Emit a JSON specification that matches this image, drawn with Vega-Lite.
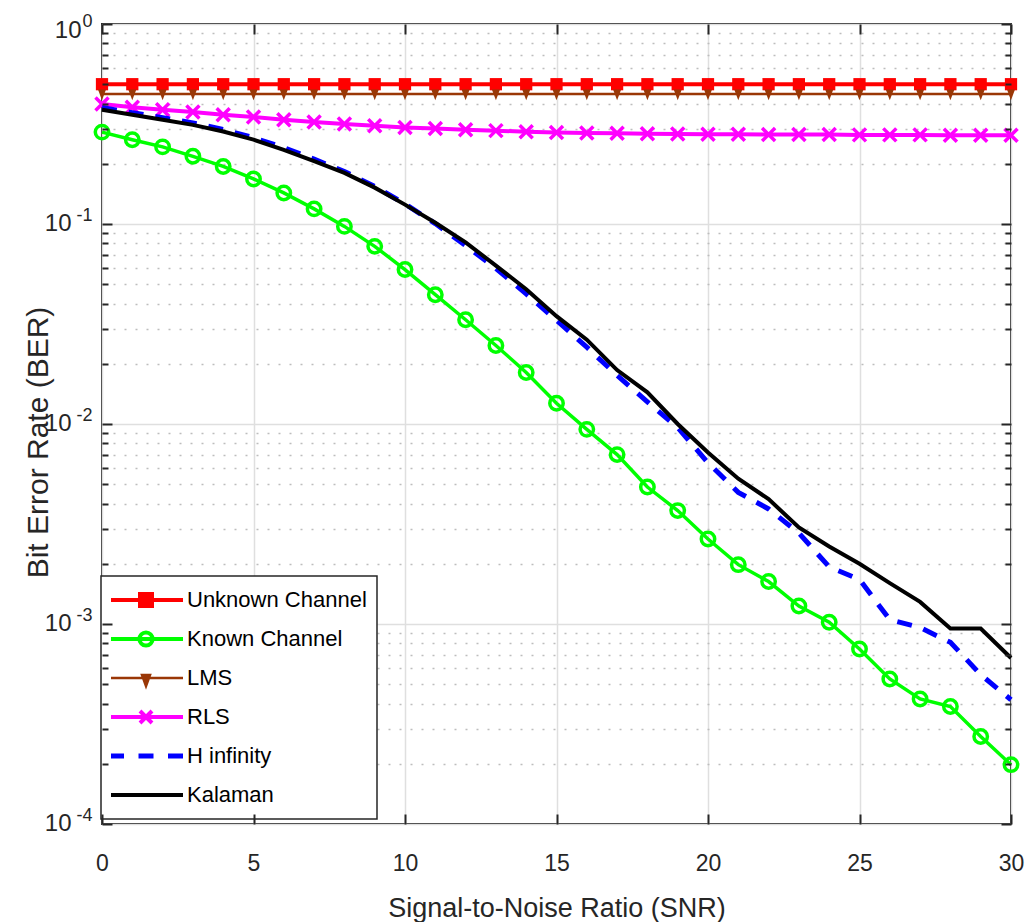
{
  "$schema": "https://vega.github.io/schema/vega-lite/v6.json",
  "width": 909,
  "height": 800,
  "autosize": {"type": "none"},
  "padding": {"left": 102, "top": 24, "right": 17, "bottom": 98},
  "background": "#ffffff",
  "datasets": {
    "ber": [
      {"snr":0,"ber":0.5,"series":"Unknown Channel"},{"snr":1,"ber":0.5,"series":"Unknown Channel"},{"snr":2,"ber":0.5,"series":"Unknown Channel"},{"snr":3,"ber":0.5,"series":"Unknown Channel"},{"snr":4,"ber":0.5,"series":"Unknown Channel"},{"snr":5,"ber":0.5,"series":"Unknown Channel"},{"snr":6,"ber":0.5,"series":"Unknown Channel"},{"snr":7,"ber":0.5,"series":"Unknown Channel"},{"snr":8,"ber":0.5,"series":"Unknown Channel"},{"snr":9,"ber":0.5,"series":"Unknown Channel"},{"snr":10,"ber":0.5,"series":"Unknown Channel"},{"snr":11,"ber":0.5,"series":"Unknown Channel"},{"snr":12,"ber":0.5,"series":"Unknown Channel"},{"snr":13,"ber":0.5,"series":"Unknown Channel"},{"snr":14,"ber":0.5,"series":"Unknown Channel"},{"snr":15,"ber":0.5,"series":"Unknown Channel"},{"snr":16,"ber":0.5,"series":"Unknown Channel"},{"snr":17,"ber":0.5,"series":"Unknown Channel"},{"snr":18,"ber":0.5,"series":"Unknown Channel"},{"snr":19,"ber":0.5,"series":"Unknown Channel"},{"snr":20,"ber":0.5,"series":"Unknown Channel"},{"snr":21,"ber":0.5,"series":"Unknown Channel"},{"snr":22,"ber":0.5,"series":"Unknown Channel"},{"snr":23,"ber":0.5,"series":"Unknown Channel"},{"snr":24,"ber":0.5,"series":"Unknown Channel"},{"snr":25,"ber":0.5,"series":"Unknown Channel"},{"snr":26,"ber":0.5,"series":"Unknown Channel"},{"snr":27,"ber":0.5,"series":"Unknown Channel"},{"snr":28,"ber":0.5,"series":"Unknown Channel"},{"snr":29,"ber":0.5,"series":"Unknown Channel"},{"snr":30,"ber":0.5,"series":"Unknown Channel"},
      {"snr":0,"ber":0.288,"series":"Known Channel"},{"snr":1,"ber":0.264,"series":"Known Channel"},{"snr":2,"ber":0.243,"series":"Known Channel"},{"snr":3,"ber":0.218,"series":"Known Channel"},{"snr":4,"ber":0.194,"series":"Known Channel"},{"snr":5,"ber":0.168,"series":"Known Channel"},{"snr":6,"ber":0.143,"series":"Known Channel"},{"snr":7,"ber":0.119,"series":"Known Channel"},{"snr":8,"ber":0.0973,"series":"Known Channel"},{"snr":9,"ber":0.0773,"series":"Known Channel"},{"snr":10,"ber":0.0592,"series":"Known Channel"},{"snr":11,"ber":0.0443,"series":"Known Channel"},{"snr":12,"ber":0.0332,"series":"Known Channel"},{"snr":13,"ber":0.0247,"series":"Known Channel"},{"snr":14,"ber":0.0181,"series":"Known Channel"},{"snr":15,"ber":0.0127,"series":"Known Channel"},{"snr":16,"ber":0.0094,"series":"Known Channel"},{"snr":17,"ber":0.00703,"series":"Known Channel"},{"snr":18,"ber":0.00484,"series":"Known Channel"},{"snr":19,"ber":0.00369,"series":"Known Channel"},{"snr":20,"ber":0.00266,"series":"Known Channel"},{"snr":21,"ber":0.00198,"series":"Known Channel"},{"snr":22,"ber":0.00163,"series":"Known Channel"},{"snr":23,"ber":0.00123,"series":"Known Channel"},{"snr":24,"ber":0.00102,"series":"Known Channel"},{"snr":25,"ber":0.00075,"series":"Known Channel"},{"snr":26,"ber":0.000531,"series":"Known Channel"},{"snr":27,"ber":0.000422,"series":"Known Channel"},{"snr":28,"ber":0.000387,"series":"Known Channel"},{"snr":29,"ber":0.000274,"series":"Known Channel"},{"snr":30,"ber":0.000198,"series":"Known Channel"},
      {"snr":0,"ber":0.447,"series":"LMS"},{"snr":1,"ber":0.447,"series":"LMS"},{"snr":2,"ber":0.447,"series":"LMS"},{"snr":3,"ber":0.447,"series":"LMS"},{"snr":4,"ber":0.447,"series":"LMS"},{"snr":5,"ber":0.447,"series":"LMS"},{"snr":6,"ber":0.447,"series":"LMS"},{"snr":7,"ber":0.447,"series":"LMS"},{"snr":8,"ber":0.447,"series":"LMS"},{"snr":9,"ber":0.447,"series":"LMS"},{"snr":10,"ber":0.447,"series":"LMS"},{"snr":11,"ber":0.447,"series":"LMS"},{"snr":12,"ber":0.447,"series":"LMS"},{"snr":13,"ber":0.447,"series":"LMS"},{"snr":14,"ber":0.447,"series":"LMS"},{"snr":15,"ber":0.447,"series":"LMS"},{"snr":16,"ber":0.447,"series":"LMS"},{"snr":17,"ber":0.447,"series":"LMS"},{"snr":18,"ber":0.447,"series":"LMS"},{"snr":19,"ber":0.447,"series":"LMS"},{"snr":20,"ber":0.447,"series":"LMS"},{"snr":21,"ber":0.447,"series":"LMS"},{"snr":22,"ber":0.447,"series":"LMS"},{"snr":23,"ber":0.447,"series":"LMS"},{"snr":24,"ber":0.447,"series":"LMS"},{"snr":25,"ber":0.447,"series":"LMS"},{"snr":26,"ber":0.447,"series":"LMS"},{"snr":27,"ber":0.447,"series":"LMS"},{"snr":28,"ber":0.447,"series":"LMS"},{"snr":29,"ber":0.447,"series":"LMS"},{"snr":30,"ber":0.447,"series":"LMS"},
      {"snr":0,"ber":0.398,"series":"RLS"},{"snr":1,"ber":0.383,"series":"RLS"},{"snr":2,"ber":0.373,"series":"RLS"},{"snr":3,"ber":0.363,"series":"RLS"},{"snr":4,"ber":0.352,"series":"RLS"},{"snr":5,"ber":0.343,"series":"RLS"},{"snr":6,"ber":0.332,"series":"RLS"},{"snr":7,"ber":0.324,"series":"RLS"},{"snr":8,"ber":0.316,"series":"RLS"},{"snr":9,"ber":0.31,"series":"RLS"},{"snr":10,"ber":0.304,"series":"RLS"},{"snr":11,"ber":0.3,"series":"RLS"},{"snr":12,"ber":0.296,"series":"RLS"},{"snr":13,"ber":0.293,"series":"RLS"},{"snr":14,"ber":0.289,"series":"RLS"},{"snr":15,"ber":0.287,"series":"RLS"},{"snr":16,"ber":0.285,"series":"RLS"},{"snr":17,"ber":0.284,"series":"RLS"},{"snr":18,"ber":0.283,"series":"RLS"},{"snr":19,"ber":0.282,"series":"RLS"},{"snr":20,"ber":0.281,"series":"RLS"},{"snr":21,"ber":0.281,"series":"RLS"},{"snr":22,"ber":0.28,"series":"RLS"},{"snr":23,"ber":0.28,"series":"RLS"},{"snr":24,"ber":0.28,"series":"RLS"},{"snr":25,"ber":0.279,"series":"RLS"},{"snr":26,"ber":0.279,"series":"RLS"},{"snr":27,"ber":0.279,"series":"RLS"},{"snr":28,"ber":0.278,"series":"RLS"},{"snr":29,"ber":0.278,"series":"RLS"},{"snr":30,"ber":0.278,"series":"RLS"},
      {"snr":0,"ber":0.382,"series":"H infinity"},{"snr":1,"ber":0.36,"series":"H infinity"},{"snr":2,"ber":0.34,"series":"H infinity"},{"snr":3,"ber":0.32,"series":"H infinity"},{"snr":4,"ber":0.297,"series":"H infinity"},{"snr":5,"ber":0.27,"series":"H infinity"},{"snr":6,"ber":0.241,"series":"H infinity"},{"snr":7,"ber":0.211,"series":"H infinity"},{"snr":8,"ber":0.183,"series":"H infinity"},{"snr":9,"ber":0.154,"series":"H infinity"},{"snr":10,"ber":0.126,"series":"H infinity"},{"snr":11,"ber":0.1005,"series":"H infinity"},{"snr":12,"ber":0.078,"series":"H infinity"},{"snr":13,"ber":0.06,"series":"H infinity"},{"snr":14,"ber":0.0447,"series":"H infinity"},{"snr":15,"ber":0.033,"series":"H infinity"},{"snr":16,"ber":0.0242,"series":"H infinity"},{"snr":17,"ber":0.0175,"series":"H infinity"},{"snr":18,"ber":0.0129,"series":"H infinity"},{"snr":19,"ber":0.0096,"series":"H infinity"},{"snr":20,"ber":0.0064,"series":"H infinity"},{"snr":21,"ber":0.00455,"series":"H infinity"},{"snr":22,"ber":0.00376,"series":"H infinity"},{"snr":23,"ber":0.00285,"series":"H infinity"},{"snr":24,"ber":0.00193,"series":"H infinity"},{"snr":25,"ber":0.00167,"series":"H infinity"},{"snr":26,"ber":0.00105,"series":"H infinity"},{"snr":27,"ber":0.00096,"series":"H infinity"},{"snr":28,"ber":0.00081,"series":"H infinity"},{"snr":29,"ber":0.000558,"series":"H infinity"},{"snr":30,"ber":0.000418,"series":"H infinity"},
      {"snr":0,"ber":0.373,"series":"Kalaman"},{"snr":1,"ber":0.352,"series":"Kalaman"},{"snr":2,"ber":0.332,"series":"Kalaman"},{"snr":3,"ber":0.313,"series":"Kalaman"},{"snr":4,"ber":0.29,"series":"Kalaman"},{"snr":5,"ber":0.264,"series":"Kalaman"},{"snr":6,"ber":0.235,"series":"Kalaman"},{"snr":7,"ber":0.206,"series":"Kalaman"},{"snr":8,"ber":0.18,"series":"Kalaman"},{"snr":9,"ber":0.152,"series":"Kalaman"},{"snr":10,"ber":0.125,"series":"Kalaman"},{"snr":11,"ber":0.1015,"series":"Kalaman"},{"snr":12,"ber":0.081,"series":"Kalaman"},{"snr":13,"ber":0.0619,"series":"Kalaman"},{"snr":14,"ber":0.0472,"series":"Kalaman"},{"snr":15,"ber":0.0346,"series":"Kalaman"},{"snr":16,"ber":0.0264,"series":"Kalaman"},{"snr":17,"ber":0.0186,"series":"Kalaman"},{"snr":18,"ber":0.0144,"series":"Kalaman"},{"snr":19,"ber":0.01,"series":"Kalaman"},{"snr":20,"ber":0.0072,"series":"Kalaman"},{"snr":21,"ber":0.00533,"series":"Kalaman"},{"snr":22,"ber":0.00421,"series":"Kalaman"},{"snr":23,"ber":0.00304,"series":"Kalaman"},{"snr":24,"ber":0.00244,"series":"Kalaman"},{"snr":25,"ber":0.002,"series":"Kalaman"},{"snr":26,"ber":0.0016,"series":"Kalaman"},{"snr":27,"ber":0.00129,"series":"Kalaman"},{"snr":28,"ber":0.00095,"series":"Kalaman"},{"snr":29,"ber":0.00095,"series":"Kalaman"},{"snr":30,"ber":0.000676,"series":"Kalaman"}
    ]
  },
  "data": {"name": "ber"},
  "config": {
    "view": {"stroke": "#262626", "strokeWidth": 2},
    "axis": {
      "labelFont": "Liberation Sans, Arial, sans-serif",
      "titleFont": "Liberation Sans, Arial, sans-serif",
      "labelColor": "#262626",
      "titleColor": "#262626",
      "tickColor": "#262626",
      "tickWidth": 2,
      "domain": false,
      "gridColor": "#dfdfdf",
      "gridWidth": 1.5,
      "labelFlush": false,
      "labelBound": false,
      "labelOverlap": false
    }
  },
  "encoding": {
    "x": {"field": "snr", "type": "quantitative", "scale": {"type": "linear", "domain": [0, 30], "nice": false, "zero": false}, "axis": null},
    "y": {"field": "ber", "type": "quantitative", "scale": {"type": "log", "domain": [0.0001, 1], "nice": false}, "axis": null}
  },
  "layer": [
    {
      "transform": [{"filter": {"field": "series", "equal": "Unknown Channel"}}],
      "mark": {"type": "line", "strokeWidth": 4},
      "encoding": {
        "x": {
          "field": "snr", "type": "quantitative",
          "scale": {"type": "linear", "domain": [0, 30], "nice": false, "zero": false},
          "axis": {
            "orient": "bottom", "values": [0, 5, 10, 15, 20, 25, 30], "ticks": false, "grid": true,
            "labelFontSize": 23, "labelPadding": 46, "labelBaseline": "alphabetic",
            "title": "Signal-to-Noise Ratio (SNR)", "titleFontSize": 27, "titleFontWeight": "normal",
            "titleY": 92, "titleX": 454.5, "titleBaseline": "alphabetic", "titleAlign": "center", "zindex": 0
          }
        },
        "y": {
          "field": "ber", "type": "quantitative",
          "scale": {"type": "log", "domain": [0.0001, 1], "nice": false},
          "axis": {
            "orient": "left", "values": [0.0001, 0.001, 0.01, 0.1, 1], "ticks": false, "grid": true,
            "labelExpr": "datum.value >= 1 ? '' : '10'",
            "labelFontSize": 24, "labelPadding": 31, "labelOffset": -1,
            "title": "Bit Error Rate (BER)",
            "titleFontSize": 30, "titleFontWeight": "normal",
            "titleX": -55, "titleY": 418, "titleAngle": -90, "titleBaseline": "alphabetic", "titleAlign": "center", "zindex": 0
          }
        },
        "color": {
          "field": "series", "type": "nominal",
          "scale": {
            "domain": ["Unknown Channel", "Known Channel", "LMS", "RLS", "H infinity", "Kalaman"],
            "range": ["#ff0000", "#00ff00", "#9a3706", "#ff00ff", "#0000ff", "#000000"]
          },
          "legend": {
            "orient": "none", "legendX": -1, "legendY": 552, "direction": "vertical", "title": null,
            "padding": 10, "rowPadding": 11, "labelOffset": 54, "clipHeight": 28,
            "symbolSize": 576, "symbolStrokeWidth": 4,
            "labelFont": "Liberation Sans, Arial, sans-serif",
            "labelFontSize": 22, "labelColor": "#000000", "labelLimit": 400,
            "strokeColor": "#262626", "fillColor": "#ffffff", "cornerRadius": 0,
            "encode": {
              "legend": {"update": {"strokeWidth": {"value": 1.5}}},
              "symbols": {
                "update": {
                  "shape": {"signal": "datum.value === 'Unknown Channel' ? 'M-1.083,0H5.083M1.5,-0.5H2.5V0.5H1.5Z' : datum.value === 'Known Channel' ? 'M-1.083,0H5.083M2.55,0A0.55,0.55,0,1,1,1.45,0A0.55,0.55,0,1,1,2.55,0' : datum.value === 'LMS' ? 'M-1.083,0H5.083M1.667,-0.25H2.333L2,0.67Z' : datum.value === 'RLS' ? 'M-1.083,0H5.083M1.5,-0.5L2.5,0.5M1.5,0.5L2.5,-0.5' : 'M-1.083,0H5.083'"},
                  "stroke": {"signal": "scale('color', datum.value)"},
                  "fill": {"signal": "datum.value === 'Unknown Channel' || datum.value === 'LMS' ? scale('color', datum.value) : 'transparent'"},
                  "strokeWidth": {"signal": "datum.value === 'LMS' ? 2.5 : datum.value === 'H infinity' ? 5 : 4"},
                  "strokeDash": {"signal": "datum.value === 'H infinity' ? [15, 14.5] : []"},
                  "opacity": {"value": 1},
                  "size": {"value": 576}
                }
              }
            }
          }
        }
      }
    },
    {
      "transform": [{"filter": {"field": "series", "equal": "Unknown Channel"}}],
      "mark": {"type": "point", "shape": "square", "filled": true, "size": 150, "color": "#ff0000", "opacity": 1}
    },
    {
      "transform": [{"filter": {"field": "series", "equal": "Known Channel"}}],
      "mark": {"type": "line", "strokeWidth": 3.5, "color": "#00ff00"}
    },
    {
      "transform": [{"filter": {"field": "series", "equal": "Known Channel"}}],
      "mark": {"type": "point", "shape": "circle", "filled": false, "size": 180, "strokeWidth": 3.5, "color": "#00ff00", "opacity": 1}
    },
    {
      "transform": [{"filter": {"field": "series", "equal": "LMS"}}],
      "mark": {"type": "line", "strokeWidth": 2.5, "color": "#9a3706"}
    },
    {
      "transform": [{"filter": {"field": "series", "equal": "LMS"}}],
      "mark": {"type": "point", "shape": "M-0.67,-0.72H0.67L0,1.07Z", "filled": true, "size": 144, "color": "#9a3706", "opacity": 1}
    },
    {
      "transform": [{"filter": {"field": "series", "equal": "RLS"}}],
      "mark": {"type": "line", "strokeWidth": 4, "color": "#ff00ff"}
    },
    {
      "transform": [{"filter": {"field": "series", "equal": "RLS"}}],
      "mark": {"type": "point", "shape": "M-1,-1L1,1M-1,1L1,-1", "filled": false, "size": 169, "strokeWidth": 3.5, "color": "#ff00ff", "opacity": 1}
    },
    {
      "transform": [{"filter": {"field": "series", "equal": "H infinity"}}],
      "mark": {"type": "line", "strokeWidth": 5, "color": "#0000ff", "strokeDash": [15, 12]}
    },
    {
      "transform": [{"filter": {"field": "series", "equal": "Kalaman"}}],
      "mark": {"type": "line", "strokeWidth": 4, "color": "#000000"}
    },
    {
      "mark": {"type": "point", "opacity": 0},
      "encoding": {
        "x": {
          "field": "snr", "type": "quantitative",
          "axis": {"orient": "bottom", "values": [0, 5, 10, 15, 20, 25, 30], "labels": false, "tickSize": -10, "grid": false, "title": null, "zindex": 1}
        },
        "y": {
          "field": "ber", "type": "quantitative",
          "axis": {
            "orient": "left",
            "values": [0.0002, 0.0003, 0.0004, 0.0005, 0.0006, 0.0007, 0.0008, 0.0009, 0.002, 0.003, 0.004, 0.005, 0.006, 0.007, 0.008, 0.009, 0.02, 0.03, 0.04, 0.05, 0.06, 0.07, 0.08, 0.09, 0.2, 0.3, 0.4, 0.5, 0.6, 0.7, 0.8, 0.9],
            "labels": false, "ticks": false, "grid": true, "gridDash": [2, 9], "gridColor": "#bdbdbd", "gridWidth": 1.5, "title": null, "zindex": 0
          }
        }
      }
    },
    {
      "mark": {"type": "point", "opacity": 0},
      "encoding": {
        "x": {
          "field": "snr", "type": "quantitative",
          "axis": {"orient": "top", "values": [0, 5, 10, 15, 20, 25, 30], "labels": false, "tickSize": -10, "grid": false, "title": null, "zindex": 1}
        },
        "y": {
          "field": "ber", "type": "quantitative",
          "axis": {"orient": "left", "values": [0.0001, 0.001, 0.01, 0.1, 1], "labels": false, "tickSize": -10, "grid": false, "title": null, "zindex": 1}
        }
      }
    },
    {
      "mark": {"type": "point", "opacity": 0},
      "encoding": {
        "y": {
          "field": "ber", "type": "quantitative",
          "axis": {
            "orient": "left",
            "values": [0.0002, 0.0003, 0.0004, 0.0005, 0.0006, 0.0007, 0.0008, 0.0009, 0.002, 0.003, 0.004, 0.005, 0.006, 0.007, 0.008, 0.009, 0.02, 0.03, 0.04, 0.05, 0.06, 0.07, 0.08, 0.09, 0.2, 0.3, 0.4, 0.5, 0.6, 0.7, 0.8, 0.9],
            "labels": false, "tickSize": -6, "grid": false, "title": null, "zindex": 1
          }
        }
      }
    },
    {
      "mark": {"type": "point", "opacity": 0},
      "encoding": {
        "y": {
          "field": "ber", "type": "quantitative",
          "axis": {"orient": "left", "values": [1], "ticks": false, "grid": false, "labelExpr": "'10'", "labelFontSize": 24, "labelPadding": 21, "labelOffset": 6, "title": null, "zindex": 1}
        }
      }
    },
    {
      "mark": {"type": "point", "opacity": 0},
      "encoding": {
        "y": {
          "field": "ber", "type": "quantitative",
          "axis": {"orient": "left", "values": [0.0001, 0.001, 0.01, 0.1], "ticks": false, "grid": false, "labelExpr": "'' + round(log(datum.value) / LN10)", "labelFontSize": 18, "labelPadding": 10, "labelOffset": -9, "title": null, "zindex": 1}
        }
      }
    },
    {
      "mark": {"type": "point", "opacity": 0},
      "encoding": {
        "y": {
          "field": "ber", "type": "quantitative",
          "axis": {"orient": "left", "values": [1], "ticks": false, "grid": false, "labelExpr": "'0'", "labelFontSize": 18, "labelPadding": 10, "labelOffset": -3, "title": null, "zindex": 1}
        }
      }
    },
    {
      "mark": {"type": "point", "opacity": 0},
      "encoding": {
        "y": {
          "field": "ber", "type": "quantitative",
          "axis": {"orient": "right", "values": [0.0001, 0.001, 0.01, 0.1, 1], "labels": false, "tickSize": -10, "grid": false, "title": null, "zindex": 1}
        }
      }
    },
    {
      "mark": {"type": "point", "opacity": 0},
      "encoding": {
        "y": {
          "field": "ber", "type": "quantitative",
          "axis": {
            "orient": "right",
            "values": [0.0002, 0.0003, 0.0004, 0.0005, 0.0006, 0.0007, 0.0008, 0.0009, 0.002, 0.003, 0.004, 0.005, 0.006, 0.007, 0.008, 0.009, 0.02, 0.03, 0.04, 0.05, 0.06, 0.07, 0.08, 0.09, 0.2, 0.3, 0.4, 0.5, 0.6, 0.7, 0.8, 0.9],
            "labels": false, "tickSize": -6, "grid": false, "title": null, "zindex": 1
          }
        }
      }
    }
  ],
  "resolve": {"axis": {"x": "independent", "y": "independent"}}
}
